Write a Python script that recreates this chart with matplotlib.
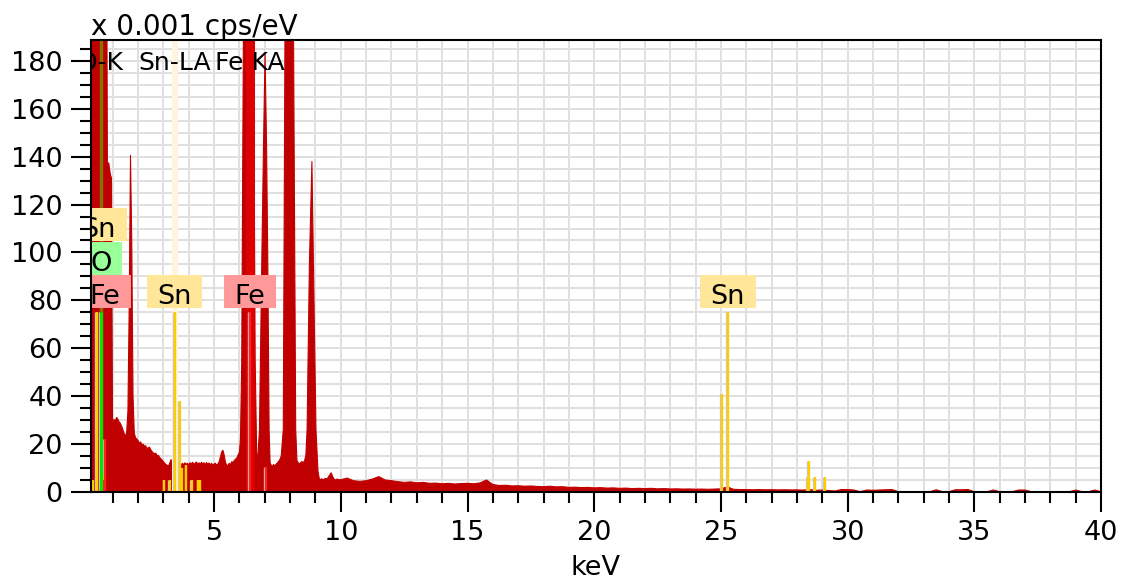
import numpy as np
import matplotlib
matplotlib.use("Agg")
import matplotlib.pyplot as plt
from matplotlib.path import Path
from matplotlib.ticker import MultipleLocator
from matplotlib.transforms import offset_copy

# spectrum, counts in units of 0.001 cps/eV
low_kev = [0.13, 0.20, 0.30, 0.40, 0.52, 0.60, 0.70, 0.77, 0.79, 0.84, 0.90, 0.95, 0.97, 0.99]
low_cps = [300, 520, 760, 980, 2600, 900, 1600, 200, 133, 137.5, 133, 131, 80, 31]

# 1.00 - 5.95 keV, 0.05 keV channels
mid_cps = [
    29.0, 30.2, 29.6, 31.0, 30.4, 29.2, 28.6, 27.4, 26.0, 24.3,
    23.2, 24.8, 34.0, 78.0, 140.5, 105.0, 40.0, 24.5, 22.6, 22.0,
    21.4, 20.3, 20.8, 19.6, 19.9, 19.0, 19.2, 18.0, 18.4, 18.6,
    17.6, 16.8, 16.2, 15.9, 16.1, 15.0, 15.2, 14.3, 13.8, 13.2,
    12.6, 11.9, 11.4, 11.0, 10.7, 12.0, 13.4, 12.3, 11.5, 12.1,
    11.0, 11.7, 10.9, 11.5, 11.0, 11.9, 11.2, 12.1, 11.4, 11.9,
    11.2, 12.1, 11.6, 12.3, 11.5, 11.9, 12.4, 11.6, 12.1, 11.4,
    12.3, 11.7, 12.1, 11.3, 12.2, 11.5, 12.0, 11.2, 11.9, 11.0,
    11.6, 11.9, 11.1, 11.6, 12.6, 14.6, 16.6, 17.3, 15.2, 12.2,
    11.1, 11.0, 11.9, 11.3, 12.6, 12.1, 13.1, 13.6, 14.2, 15.4,
]
mid_kev = np.linspace(1.0, 5.95, len(mid_cps))

# Fe K and Cu K region
fe_kev = [6.00, 6.04, 6.09, 6.16, 6.25, 6.40, 6.50, 6.55, 6.62, 6.68,
          6.73, 6.79, 6.88, 6.95, 7.01, 7.07, 7.12, 7.17, 7.21, 7.25,
          7.30, 7.35, 7.40, 7.45, 7.50, 7.55, 7.60, 7.65, 7.73, 7.80,
          7.95, 8.04, 8.13, 8.22, 8.27, 8.32, 8.37, 8.42, 8.47, 8.52,
          8.57, 8.62, 8.67, 8.76, 8.86, 8.92, 9.02, 9.10, 9.15, 9.20,
          9.25, 9.30, 9.35, 9.40, 9.45, 9.50, 9.55, 9.62, 9.68, 9.74,
          9.80, 9.86, 9.92]
fe_cps = [16.5, 22, 54, 200, 900, 2600, 1500, 200, 55, 16,
          15, 26, 95, 145, 183, 145, 95, 26, 12, 11.2,
          10.6, 11.4, 10.7, 11.6, 12.0, 12.8, 13.5, 15, 26, 200,
          1500, 2200, 200, 26, 13, 12.1, 11.6, 12.2, 12.6, 12.1,
          13.0, 15, 26, 95, 138, 95, 26, 8.5, 5.5, 5.0,
          5.4, 4.9, 5.3, 5.6, 5.3, 6.0, 6.8, 7.9, 6.3, 5.2,
          4.9, 5.3, 5.0]

# 10 - 40 keV, 0.25 keV channels
tail_cps = [
    5.0, 5.7, 4.6, 4.3, 4.6, 5.3, 6.3, 4.9,
    4.6, 4.2, 3.9, 4.1, 3.7, 3.9, 3.5, 3.6,
    3.3, 3.5, 3.2, 3.4, 3.5, 3.3, 3.7, 4.9,
    3.0, 2.6, 2.7, 2.4, 2.5, 2.3, 2.4, 2.2,
    2.1, 2.3, 2.0, 2.1, 1.8, 1.9, 1.7, 1.8,
    1.6, 1.7, 1.5, 1.6, 1.4, 1.5, 1.3, 1.4,
    1.3, 1.4, 1.2, 1.3, 1.15, 1.2, 1.1, 1.15,
    1.05, 1.1, 1.0, 1.1, 1.2, 2.0, 1.0, 0.9,
    0.9, 0.8, 0.9, 0.8, 0.85, 0.75, 0.8, 0.75,
    0.75, 0.7, 0.9, 0.6, 0.7, 0.5, 0.3, 0.9,
    0.9, 0.7, 0.0, 0.7, 0.6, 0.7, 0.8, 0.9,
    0.0, 0.0, 0.0, 0.0, 0.0, 0.0, 0.8, 0.0,
    0.0, 0.8, 0.8, 0.9, 0.0, 0.0, 0.0, 0.7,
    0.0, 0.0, 0.0, 0.7, 0.7, 0.0, 0.0, 0.0,
    0.0, 0.0, 0.0, 0.0, 0.7, 0.0, 0.0, 0.7,
    0.0,
]
tail_kev = np.linspace(10.0, 40.0, len(tail_cps))

# element line markers (keV, relative height)
sn_line_kev = [0.22, 0.37, 0.65, 3.04, 3.27, 3.444, 3.663, 3.75, 3.905, 4.131,
               4.38, 4.46, 25.044, 25.271, 28.44, 28.486, 28.71, 29.11]
sn_line_cps = [5, 75, 7, 5, 5, 75, 38, 10, 11, 5,
               5, 5, 41, 75, 6, 13, 6, 6]
fe_line_kev = [0.615, 0.705, 6.40, 7.058]
fe_line_cps = [5, 22, 75, 10.5]
o_line_kev = [0.525]
o_line_cps = [75]

# element tags
tag_symbols = ["Sn", "O", "Fe", "Sn", "Fe", "Sn"]
tag_kev = [0.45, 0.525, 0.705, 3.444, 6.40, 25.271]
tag_rows = [2, 1, 0, 0, 0, 0]
tag_colors = {"Sn": "#ffe699", "O": "#99ff99", "Fe": "#ff9999"}

# KLM markers at the top
marker_names = ["O-K", "Sn-LA", "Fe KA"]
marker_kev = [0.525, 3.444, 6.40]
marker_colors = ["#7f7600", "#fff4de", "#dc0000"]
marker_widths = [2.4, 4.3, 6.5]


def tag_box(x0, y0, width, height, mutation_size):
    # wide side padding, text sitting low in the box
    left = x0 - 0.39 * mutation_size
    right = x0 + width + 0.39 * mutation_size
    bottom = y0 + 0.07 * mutation_size
    top = y0 + height + 0.34 * mutation_size
    return Path([(left, bottom), (right, bottom), (right, top),
                 (left, top), (left, bottom)], closed=True)


kev = np.concatenate([low_kev, mid_kev, fe_kev, tail_kev])
cps = np.concatenate([low_cps, mid_cps, fe_cps, tail_cps])

fig = plt.figure(figsize=(11.21, 5.79), dpi=100)
ax = fig.add_axes([90.7 / 1121, 87.3 / 579, 1010.3 / 1121, 452.2 / 579])

ax.fill_between(kev, 0, cps, color="#c00000", lw=0.8, zorder=2)

for x, c, w in zip(marker_kev, marker_colors, marker_widths):
    ax.axvline(x, color=c, lw=w, zorder=3)

shadow = offset_copy(ax.transData, fig=fig, x=-1.8, y=0, units="dots")
for xs, hs, c, w in [(sn_line_kev, sn_line_cps, "#ffcc00", 1.7),
                     (fe_line_kev, fe_line_cps, "#ff2020", 1.7),
                     (o_line_kev, o_line_cps, "#00e600", 2.3)]:
    ax.vlines(xs, 0, hs, colors="#c8c8c8", lw=0.95, transform=shadow, zorder=4)
    ax.vlines(xs, 0, hs, colors=c, lw=w, zorder=5)

for sym, x, row in zip(tag_symbols, tag_kev, tag_rows):
    ax.text(x, 78.4 + 13.96 * row, sym, ha="center", va="baseline",
            fontsize=19.5, clip_on=True, zorder=6,
            bbox=dict(boxstyle=tag_box, fc=tag_colors[sym], ec="none"))

for name, x in zip(marker_names, marker_kev):
    ax.text(x, 176.2, name, ha="center", va="baseline", fontsize=18,
            clip_on=True, zorder=7)

ax.set_xlim(0.13, 40)
ax.set_ylim(0, 189)
ax.xaxis.set_major_locator(MultipleLocator(5))
ax.xaxis.set_minor_locator(MultipleLocator(1))
ax.yaxis.set_major_locator(MultipleLocator(20))
ax.yaxis.set_minor_locator(MultipleLocator(5))

ax.set_axisbelow(True)
ax.grid(True, which="both", color="#e0e0e0", lw=1.4)
ax.tick_params(which="major", direction="out", length=14.4, width=1.5,
               labelsize=19.5, pad=5.8)
ax.tick_params(which="minor", direction="out", length=8, width=1.5)
for s in ax.spines.values():
    s.set_linewidth(1.5)
    s.set_zorder(8)

ax.set_xlabel("keV", fontsize=19.5, labelpad=6.5)
ax.annotate("x 0.001 cps/eV", xy=(0, 1), xycoords="axes fraction",
            xytext=(0, 3.2), textcoords="offset points",
            ha="left", va="baseline", fontsize=20)

fig.savefig("out.png", dpi=100, facecolor="white")
